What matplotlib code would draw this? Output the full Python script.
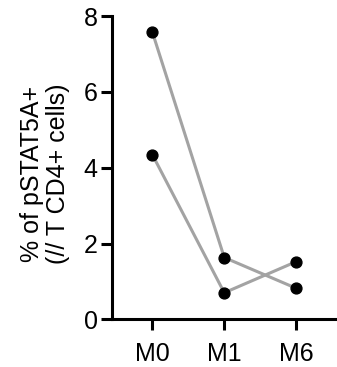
import matplotlib.pyplot as plt

plt.rcParams['font.family'] = ['Liberation Sans', 'DejaVu Sans']

months = ['M0', 'M1', 'M6']
patient_a = [7.57, 1.63, 0.82]
patient_b = [4.34, 0.70, 1.52]

fig = plt.figure(figsize=(3.37, 3.67), dpi=100)
ax = fig.add_axes([0.331, 0.13, 0.669, 0.826])

x = range(len(months))
for vals in (patient_a, patient_b):
    ax.plot(x, vals, color='#a3a3a3', linewidth=2.2, zorder=2)
    ax.plot(x, vals, 'o', color='black', markersize=7.8, zorder=3)

ax.set_xlim(-0.57, 2.57)
ax.set_ylim(0, 8)
ax.set_yticks([0, 2, 4, 6, 8])
ax.set_xticks(list(x))
ax.set_xticklabels(months)
ax.set_ylabel('% of pSTAT5A+\n(// T CD4+ cells)', fontsize=18, linespacing=1.1)
ax.yaxis.set_label_coords(-0.185, 0.48)

for s in ['top', 'right']:
    ax.spines[s].set_visible(False)
for s in ['left', 'bottom']:
    ax.spines[s].set_linewidth(2.2)
ax.tick_params(axis='both', width=2.2, labelsize=18)
ax.tick_params(axis='x', length=8, pad=8)
ax.tick_params(axis='y', length=8, pad=2)

fig.savefig('out.png', dpi=100)
